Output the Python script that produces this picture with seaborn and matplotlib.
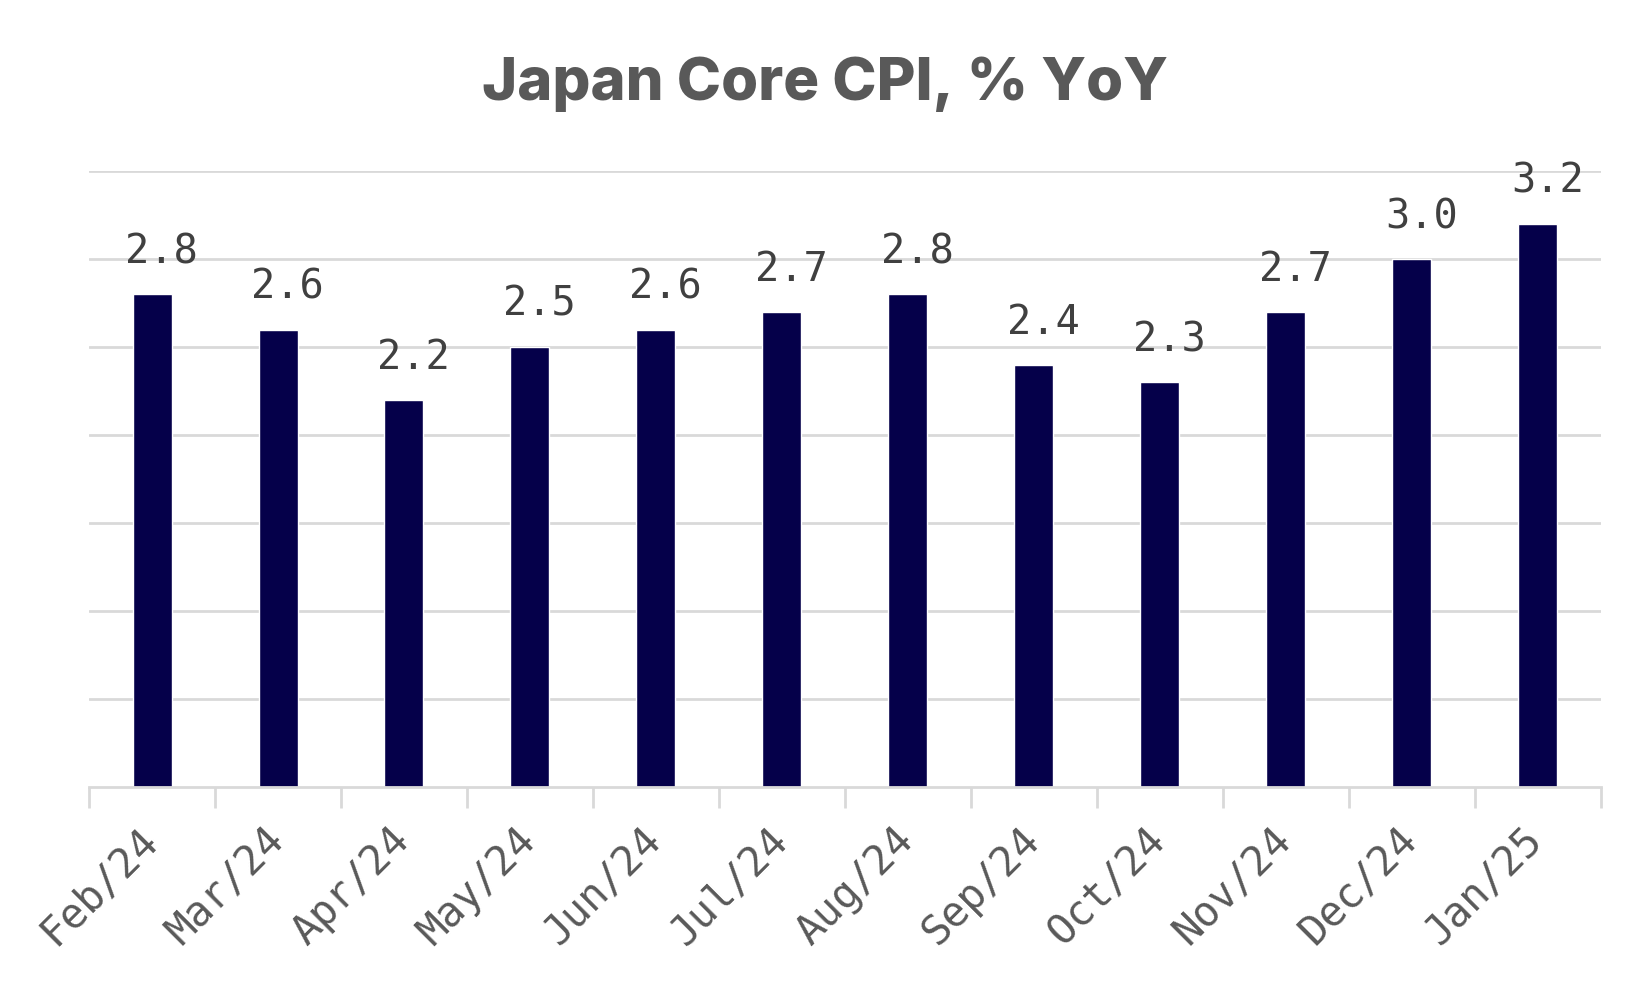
import numpy as np
import pandas as pd
import seaborn as sns
import matplotlib.pyplot as plt
from matplotlib.ticker import FixedLocator

months = ["Feb/24", "Mar/24", "Apr/24", "May/24", "Jun/24", "Jul/24",
          "Aug/24", "Sep/24", "Oct/24", "Nov/24", "Dec/24", "Jan/25"]
core_cpi = [2.8, 2.6, 2.2, 2.5, 2.6, 2.7, 2.8, 2.4, 2.3, 2.7, 3.0, 3.2]

df = pd.DataFrame({"Month": months, "Core CPI": core_cpi})

sns.set_theme(style="white")
plt.rcParams["font.family"] = ["DejaVu Sans Mono", "DejaVu Sans"]

fig = plt.figure(figsize=(16.5, 9.9), dpi=100)
ax = fig.add_axes([0.054, 0.205, 0.916, 0.622])

sns.barplot(data=df, x="Month", y="Core CPI", color="#05004A", width=0.31,
            saturation=1, ax=ax)

ax.set_xlim(-0.5, len(months) - 0.5)
ax.set_ylim(0, 3.5)
ax.set_yticks(np.arange(0.5, 3.51, 0.5))
ax.set_yticklabels([])
ax.tick_params(axis="y", length=0)
ax.yaxis.grid(True, color="#d9d9d9", linewidth=2)
ax.set_axisbelow(True)

for side in ["top", "right", "left"]:
    ax.spines[side].set_visible(False)
ax.spines["bottom"].set_color("#d9d9d9")
ax.spines["bottom"].set_linewidth(2)

ax.xaxis.set_minor_locator(FixedLocator(np.arange(-0.5, len(months), 1)))
ax.tick_params(axis="x", which="minor", bottom=True, length=15, width=2,
               color="#d9d9d9")
ax.tick_params(axis="x", which="major", length=0, pad=34)
ax.set_xticks(range(len(months)))
ax.set_xticklabels(months, rotation=45, ha="right", va="center",
                   rotation_mode="anchor", fontsize=29.5, color="#595959")

for i, v in enumerate(core_cpi):
    ax.annotate(f"{v:.1f}", (i, v), xytext=(7, 16), textcoords="offset points",
                ha="center", va="bottom", fontsize=29, color="#404040")

ax.set_xlabel("")
ax.set_ylabel("")

fig.text(0.5, 0.915, "Japan Core CPI, % YoY", ha="center", va="center",
         fontsize=43, fontweight="heavy", color="#595959",
         family=["Inter", "DejaVu Sans"])

fig.savefig("out.png", dpi=100)
